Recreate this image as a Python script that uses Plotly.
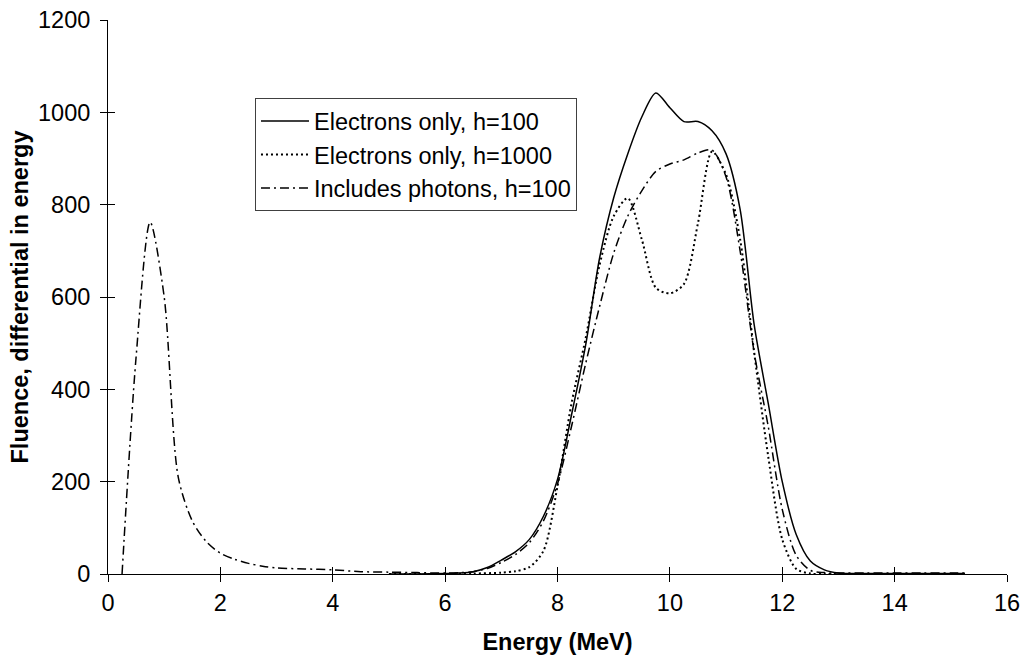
import plotly.graph_objects as go

# ---- data ----
e_h100 = [5.0, 5.5, 6.0, 6.25, 6.5, 6.75, 7.0, 7.25, 7.5, 7.75, 8.0, 8.25, 8.5, 8.75, 9.0, 9.25, 9.5, 9.75,
          10.0, 10.25, 10.5, 10.75, 11.0, 11.25, 11.5, 11.75, 12.0, 12.25, 12.5, 12.75, 13.0, 13.25,
          13.5, 13.75, 14.0, 14.25, 14.5, 14.75, 15.0, 15.25]
f_h100 = [0, 0, 1, 2, 5, 14, 30, 48, 75, 125, 205, 345, 495, 685, 815, 910, 990, 1042,
          1010, 980, 980, 960, 910, 790, 540, 370, 200, 85, 28, 9, 2, 1,
          1, 1, 1, 1, 1, 1, 1, 1]

e_h1000 = [5.0, 5.5, 6.0, 6.5, 7.0, 7.25, 7.5, 7.75, 8.0, 8.25, 8.5, 8.75, 9.0, 9.25, 9.5, 9.75,
           10.0, 10.25, 10.5, 10.75, 11.0, 11.25, 11.5, 11.75, 12.0, 12.25, 12.5, 12.75, 13.0,
           13.5, 14.0, 14.5, 15.0, 15.25]
f_h1000 = [0, 0, 0, 1, 3, 6, 15, 50, 190, 370, 510, 670, 775, 814, 725, 620,
           608, 628, 760, 915, 865, 725, 480, 255, 75, 11, 1, 0, 0,
           0, 0, 0, 0, 0]

e_phot = [0.25, 0.5, 0.75, 1.0, 1.25, 1.5, 1.75, 2.0, 2.25, 2.5, 2.75, 3.0, 3.5, 4.0, 4.5, 5.0, 5.5,
          6.0, 6.25, 6.5, 6.75, 7.0, 7.25, 7.5, 7.75, 8.0, 8.25, 8.5, 8.75, 9.0, 9.25, 9.5, 9.75,
          10.0, 10.25, 10.5, 10.75, 11.0, 11.25, 11.5, 11.75, 12.0, 12.25, 12.5, 12.75, 13.0,
          13.5, 14.0, 14.5, 15.0, 15.25]
f_phot = [0, 470, 762, 600, 210, 115, 70, 45, 32, 23, 17, 13, 11, 9, 5, 4, 3,
          2, 3, 5, 12, 25, 42, 68, 115, 195, 320, 455, 580, 695, 775, 830, 872,
          888, 897, 912, 918, 860, 700, 480, 320, 140, 40, 8, 3, 2,
          2, 2, 2, 2, 2]

names = ["Electrons only, h=100", "Electrons only, h=1000", "Includes photons, h=100"]

x_ticks = [0, 2, 4, 6, 8, 10, 12, 14, 16]
y_ticks = [0, 200, 400, 600, 800, 1000, 1200]

FONT = "Liberation Sans, Arial, sans-serif"
FS = 23.5

fig = go.Figure()
fig.add_trace(go.Scatter(x=e_h100, y=f_h100, name=names[0], mode="lines",
                         line=dict(color="black", width=1.5, dash="solid", shape="spline", smoothing=0.8)))
fig.add_trace(go.Scatter(x=e_h1000, y=f_h1000, name=names[1], mode="lines",
                         line=dict(color="black", width=2, dash="2px,3px", shape="spline", smoothing=0.8)))
fig.add_trace(go.Scatter(x=e_phot, y=f_phot, name=names[2], mode="lines",
                         line=dict(color="black", width=1.5, dash="9px,4px,2px,4px", shape="spline", smoothing=0.8)))
# invisible trace to carry the inner-tick overlay axes
fig.add_trace(go.Scatter(x=[None], y=[None], xaxis="x2", yaxis="y2", showlegend=False, hoverinfo="skip"))

axis_common = dict(showgrid=False, zeroline=False, linecolor="black", linewidth=1,
                   tickcolor="black", tickwidth=1, ticklen=7, ticks="outside", automargin=False,
                   ticklabeloverflow="allow",
                   tickfont=dict(family=FONT, size=FS, color="black"))

fig.update_layout(
    width=1022, height=657,
    paper_bgcolor="white", plot_bgcolor="white",
    margin=dict(l=108, r=15, t=20, b=83),
    font=dict(family=FONT, size=FS, color="black"),
    xaxis=dict(range=[0, 16], tickvals=x_ticks, showline=True, ticklabelstandoff=1,
               title=dict(text="<b>Energy (MeV)</b>", font=dict(family=FONT, size=FS), standoff=18),
               **axis_common),
    yaxis=dict(range=[0, 1200], tickvals=y_ticks, showline=True, ticklabelstandoff=5,
               title=dict(text="<b>Fluence, differential in energy</b>", font=dict(family=FONT, size=FS), standoff=2),
               **axis_common),
    xaxis2=dict(range=[0, 16], tickvals=x_ticks, overlaying="x", showticklabels=False, showline=False,
                showgrid=False, zeroline=False, ticks="inside", ticklen=7, tickcolor="black", tickwidth=1,
                automargin=False),
    yaxis2=dict(range=[0, 1200], tickvals=y_ticks, overlaying="y", showticklabels=False, showline=False,
                showgrid=False, zeroline=False, ticks="inside", ticklen=7, tickcolor="black", tickwidth=1,
                automargin=False),
    legend=dict(x=0.1635, y=0.859, xanchor="left", yanchor="top",
                bgcolor="white", bordercolor="#404040", borderwidth=1, itemwidth=48,
                font=dict(family=FONT, size=23.5, color="black"), tracegroupgap=0),
    showlegend=True,
)

fig.write_html("out.html", config={"displayModeBar": False},
               post_script="document.body.style.margin='0';document.body.style.overflow='hidden';")
